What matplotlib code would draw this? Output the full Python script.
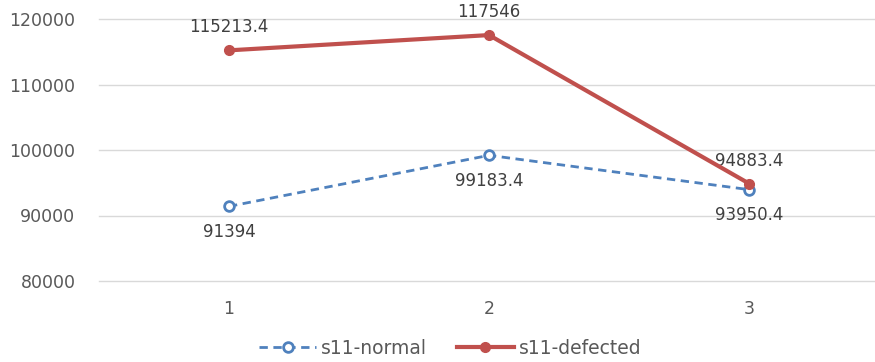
import matplotlib
matplotlib.use("Agg")
import matplotlib.pyplot as plt

categories = [1, 2, 3]
normal = [91394, 99183.4, 93950.4]
defected = [115213.4, 117546, 94883.4]
normal_labels = ["91394", "99183.4", "93950.4"]
defected_labels = ["115213.4", "117546", "94883.4"]
yticks = [80000, 90000, 100000, 110000, 120000]

W, H = 875, 362
fig = plt.figure(figsize=(W / 100, H / 100), dpi=100)
ax = fig.add_axes([99 / W, (H - 281) / H, (W - 99) / W, 262 / H])

blue = "#4F81BD"
red = "#C0504D"
grey = "#595959"

ax.plot(categories, normal, color=blue, lw=2, ls=(0, (3, 2)), marker="o",
        ms=7, mfc="white", mec=blue, mew=2, label="s11-normal", zorder=3)
ax.plot(categories, defected, color=red, lw=3, marker="o", ms=7,
        mfc=red, mec=red, label="s11-defected", zorder=4)

for x, y, t in zip(categories, defected, defected_labels):
    ax.annotate(t, (x, y), xytext=(0, 10), textcoords="offset points",
                ha="center", va="bottom", fontsize=12, color="#404040")
for x, y, t in zip(categories, normal, normal_labels):
    ax.annotate(t, (x, y), xytext=(0, -12), textcoords="offset points",
                ha="center", va="top", fontsize=12, color="#404040")

ax.set_xlim(0.5, 0.5 + (W - 99) / 260)
ax.set_ylim(80000, 120000)
ax.set_yticks(yticks)
ax.set_xticks(categories)
ax.tick_params(length=0, labelsize=12.5, labelcolor=grey)
ax.tick_params(axis="y", pad=17)
ax.tick_params(axis="x", pad=14)
ax.grid(axis="y", color="#D9D9D9", lw=1)
for gl in ax.get_ygridlines():
    gl.set_clip_on(False)
ax.set_axisbelow(True)
for s in ax.spines.values():
    s.set_visible(False)

fig.legend(loc="lower center", bbox_to_anchor=(0.515, -0.035), ncol=2,
           frameon=False, fontsize=13.5, labelcolor=grey, handlelength=3.0,
           handletextpad=0.3, columnspacing=1.6)

fig.savefig("out.png", dpi=100)
